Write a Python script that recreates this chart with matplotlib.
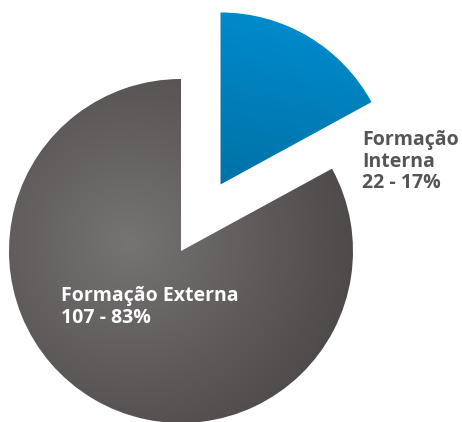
import numpy as np
import matplotlib
matplotlib.use("Agg")
import matplotlib.pyplot as plt
from matplotlib.colors import LinearSegmentedColormap

categories = ["Formação Interna", "Formação Externa"]
values = [22, 107]

total = sum(values)
pcts = [round(v * 100 / total) for v in values]

fig = plt.figure(figsize=(4.62, 4.22), dpi=100)
ax = fig.add_axes([0, 0, 1, 1])
ax.axis("off")

wedges, _ = ax.pie(values, startangle=90, counterclock=False,
                   explode=[0.45, 0], radius=1.0,
                   wedgeprops=dict(facecolor="none", edgecolor="none"))

# place the pie: centre and radius in pixel units of the canvas
R_PX = 172.0
cx, cy = 181.0, 251.0
ax.set_aspect("equal")
ax.set_xlim(-cx / R_PX, (462 - cx) / R_PX)
ax.set_ylim(-(422 - cy) / R_PX, cy / R_PX)

# blue gradient for the internal slice (top light, bottom dark)
blue_cmap = LinearSegmentedColormap.from_list("b", ["#0070a4", "#0093d9"])
gx = np.linspace(0, 1, 200)
gy = np.linspace(0, 1, 200)
GX, GY = np.meshgrid(gx, gy)
blue_grad = GY * 0.8 + GX * 0.2
im = ax.imshow(blue_grad, cmap=blue_cmap, origin="lower",
               extent=[0.1, 1.6, 0.35, 1.5], zorder=2, interpolation="bilinear")
im.set_clip_path(wedges[0])

# radial gradient for the external slice
gray_cmap = LinearSegmentedColormap.from_list("g", ["#767473", "#5f5c5b", "#4a4645"])
xs = np.linspace(-1.05, 1.05, 400)
ys = np.linspace(-1.05, 1.05, 400)
XX, YY = np.meshgrid(xs, ys)
dist = np.hypot(XX + 0.3, YY - 0.05) / 1.45
im2 = ax.imshow(np.clip(dist, 0, 1), cmap=gray_cmap, origin="lower",
                extent=[-1.05, 1.05, -1.05, 1.05], zorder=2, interpolation="bilinear")
im2.set_clip_path(wedges[1])

ax.set_xlim(-cx / R_PX, (462 - cx) / R_PX)
ax.set_ylim(-(422 - cy) / R_PX, cy / R_PX)

font = dict(family=["Open Sans", "DejaVu Sans"], fontweight="bold", fontsize=14,
            linespacing=1.1)

ax.text((362 - cx) / R_PX, (cy - 188) / R_PX,
        "Formação\nInterna\n" + f"{values[0]} - {pcts[0]}%",
        color="#555555", ha="left", va="baseline", **font)
ax.text((61 - cx) / R_PX, (cy - 323) / R_PX,
        "Formação Externa\n" + f"{values[1]} - {pcts[1]}%",
        color="white", ha="left", va="baseline", zorder=5, **font)

fig.savefig("out.png", dpi=100, facecolor="white")
